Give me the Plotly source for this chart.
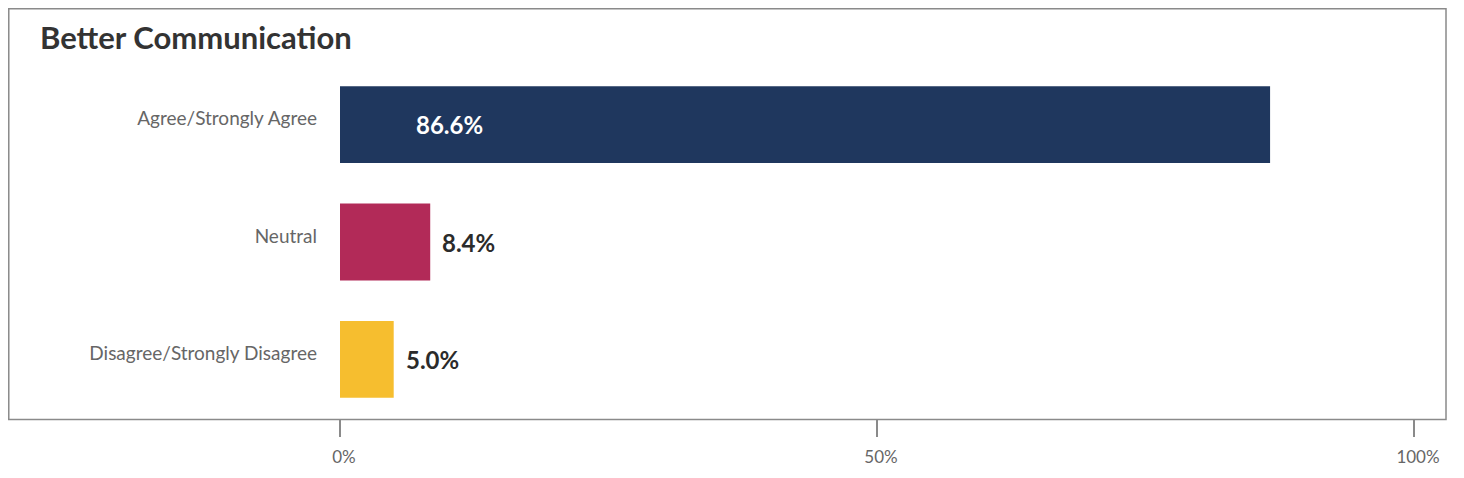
"""Horizontal bar chart: survey agreement on better communication."""
import plotly.graph_objects as go

# data
categories = ['Agree/Strongly Agree', 'Neutral', 'Disagree/Strongly Disagree']
values = [86.6, 8.4, 5.0]
value_labels = ['86.6%', '8.4%', '5.0%']
bar_colors = ['#1f375e', '#b22a58', '#f6be2f']
tick_vals = [0, 50, 100]
tick_text = ['0%', '50%', '100%']

FONT = 'Lato'

fig = go.Figure(go.Bar(
    x=values,
    y=categories,
    orientation='h',
    marker=dict(color=bar_colors, line=dict(width=0)),
    width=0.655,
    hoverinfo='skip',
))

# value labels: first one sits inside the bar, the rest right of the bar end
fig.add_annotation(x=0, y=categories[0], text=f'<b>{value_labels[0]}</b>',
                   showarrow=False, xanchor='left', xshift=74,
                   font=dict(family=FONT, size=24, color='white'))
for cat, val, lab in zip(categories[1:], values[1:], value_labels[1:]):
    fig.add_annotation(x=val, y=cat, text=f'<b>{lab}</b>',
                       showarrow=False, xanchor='left', xshift=10,
                       font=dict(family=FONT, size=24, color='#2b2b2b'))

# outer frame
fig.add_shape(type='rect', xref='paper', yref='paper',
              x0=-0.3084, x1=1.0298, y0=-0.0043, y1=1.1626,
              line=dict(color='#8a8a8a', width=1.5), layer='below')

fig.update_layout(
    width=1464,
    height=478,
    margin=dict(l=332, r=58, t=58, b=68),
    paper_bgcolor='white',
    plot_bgcolor='white',
    showlegend=False,
    font=dict(family=FONT, color='#666666'),
    title=dict(text='<b>Better Communication</b>', x=32 / 1464, xanchor='left',
               y=1 - 30 / 478, yanchor='middle',
               font=dict(family=FONT, size=31, color='#333333')),
    xaxis=dict(range=[0, 100], tickvals=tick_vals, ticktext=tick_text,
               showgrid=False, zeroline=False, showline=False,
               ticks='outside', ticklen=18, tickwidth=1.5, tickcolor='#8a8a8a',
               ticklabelstandoff=6, ticklabelshift=4,
               tickfont=dict(family=FONT, size=17, color='#666666'),
               fixedrange=True),
    yaxis=dict(categoryorder='array', categoryarray=categories,
               autorange='reversed', showgrid=False, zeroline=False,
               showline=False, ticks='', ticklabelstandoff=22,
               ticklabelshift=6,
               tickfont=dict(family=FONT, size=19, color='#666666'),
               fixedrange=True),
)

fig.write_html('out.html')
